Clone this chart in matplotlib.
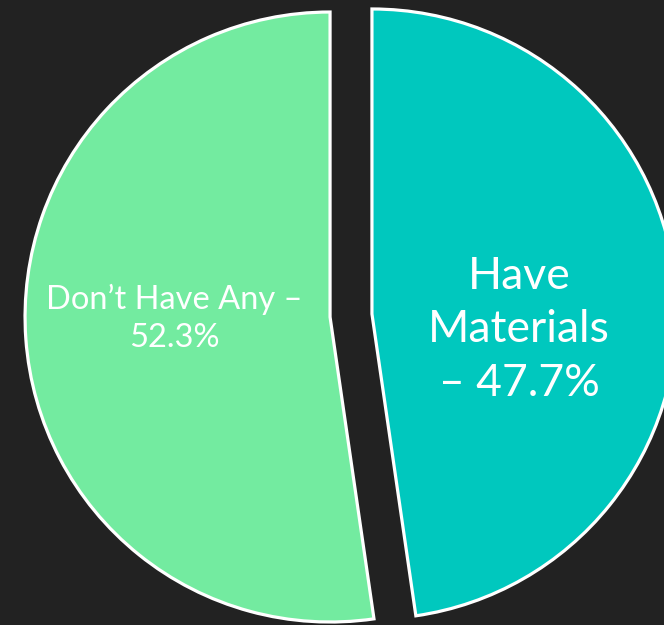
import matplotlib.pyplot as plt

# slices, counter-clockwise from 12 o'clock
labels = ["Don\u2019t Have Any \u2013\n{}%", "Have\nMaterials\n\u2013 {}%"]
shares = [52.3, 47.7]
colors = ["#73EBA0", "#00C8BE"]

fig = plt.figure(figsize=(6.64, 6.25), dpi=100, facecolor="#222222")
ax = fig.add_axes([0, 0, 1, 1])
ax.set_facecolor("#222222")

ax.pie(shares, colors=colors, startangle=90, counterclock=True,
       radius=305, center=(351, 309.5), explode=[21, 21],
       wedgeprops=dict(edgecolor="white", linewidth=2.3), frame=True)
ax.set_xlim(0, 664)
ax.set_ylim(0, 625)
ax.set_aspect("equal")
ax.axis("off")

ax.text(174, 307, labels[0].format(shares[0]), color="white", fontsize=23.5,
        family="Lato", ha="center", va="center", linespacing=1.33)
ax.text(519, 295, labels[1].format(shares[1]), color="white", fontsize=32,
        family="Lato", ha="center", va="center", linespacing=1.38)

fig.savefig("out.png", facecolor="#222222")
